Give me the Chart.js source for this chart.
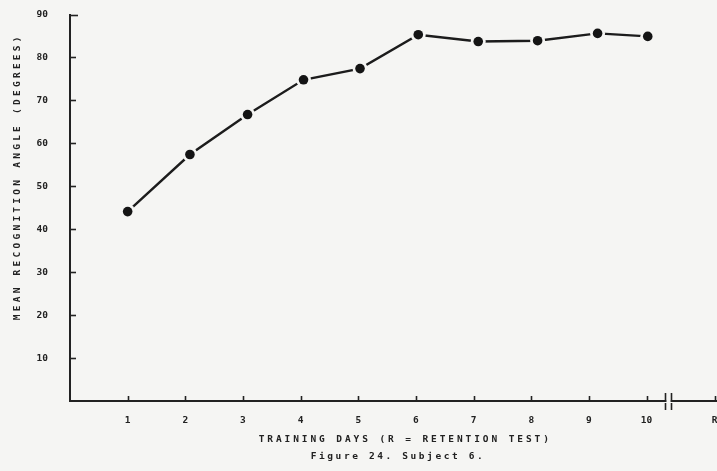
<!DOCTYPE html>
<html><head><meta charset="utf-8">
<script src="https://cdn.jsdelivr.net/npm/chart.js@4.4.0/dist/chart.umd.min.js"></script>
<style>
html,body{margin:0;padding:0;background:#f5f5f3;overflow:hidden;width:717px;height:471px;}
#wrap{width:740px;height:471px;}
canvas{display:block;}
</style></head><body>
<div id="wrap"><canvas id="c" width="740" height="471"></canvas></div>
<script>
// ---- data ----
const trainingDays = [1.00, 2.08, 3.08, 4.05, 5.03, 6.04, 7.08, 8.11, 9.15, 10.02];
const meanAngle    = [44.1, 57.4, 66.7, 74.8, 77.4, 85.3, 83.7, 83.9, 85.6, 84.9];
const xTickValues  = [1, 2, 3, 4, 5, 6, 7, 8, 9, 10, 11.18];
const xTickLabels  = ['1','2','3','4','5','6','7','8','9','10','R'];
const yTickValues  = [10, 20, 30, 40, 50, 60, 70, 80, 90];
const axisBreakAt  = 10.38;
const xTitle  = 'TRAINING DAYS (R = RETENTION TEST)';
const yTitle  = 'MEAN RECOGNITION ANGLE (DEGREES)';
const caption = 'Figure 24. Subject 6.';

const BG = '#f5f5f3';
const INK = '#222222';
const points = trainingDays.map((d, i) => ({x: d, y: meanAngle[i]}));

Chart.defaults.font.family = "'DejaVu Sans Mono', monospace";
Chart.defaults.font.weight = 'bold';
Chart.defaults.font.size = 9.5;
Chart.defaults.color = INK;

const titleStyle = {
  x: {ls: '2.9px', dx: 4, dy: 0},
  y: {ls: '3.25px', dx: 0, dy: -31}
};

const stylePlugin = {
  id: 'stylePlugin',
  beforeDraw(chart) {
    const c = chart.ctx;
    c.save(); c.fillStyle = BG; c.fillRect(0, 0, chart.width, chart.height); c.restore();
    Object.values(chart.scales).forEach(s => {
      const cfg = titleStyle[s.id];
      if (cfg && !s.__patched) {
        const orig = s.drawTitle;
        s.drawTitle = function () {
          const ctx = this.ctx; ctx.save();
          ctx.letterSpacing = cfg.ls; ctx.translate(cfg.dx, cfg.dy);
          orig.apply(this, arguments); ctx.restore();
        };
        s.__patched = true;
      }
    });
    const tb = chart.titleBlock;
    if (tb && !tb.__patched) {
      const orig = tb.draw;
      tb.draw = function () {
        const ctx = this.ctx; ctx.save();
        ctx.letterSpacing = '2.6px'; ctx.translate(28, 0);
        orig.apply(this, arguments); ctx.restore();
      };
      tb.__patched = true;
    }
  },
  afterDraw(chart) {
    const {ctx, scales: {x, y}, chartArea: a} = chart;
    ctx.save();
    ctx.strokeStyle = INK; ctx.lineWidth = 1.6;
    x.ticks.forEach(t => {
      const px = Math.round(x.getPixelForValue(t.value)) + 0.5;
      ctx.beginPath(); ctx.moveTo(px, a.bottom); ctx.lineTo(px, a.bottom - 5); ctx.stroke();
    });
    y.ticks.forEach(t => {
      const py = Math.round(y.getPixelForValue(t.value)) + 0.5;
      ctx.beginPath(); ctx.moveTo(a.left, py); ctx.lineTo(a.left + (t.value === 90 ? 8 : 6), py); ctx.stroke();
    });
    // axis break
    const bx = x.getPixelForValue(axisBreakAt);
    ctx.fillStyle = BG; ctx.fillRect(bx - 2, a.bottom - 3, 4, 6);
    ctx.lineWidth = 1.6;
    [bx - 3, bx + 3].forEach(px => {
      ctx.beginPath(); ctx.moveTo(px, a.bottom - 8); ctx.lineTo(px, a.bottom - 1); ctx.stroke();
      ctx.beginPath(); ctx.moveTo(px, a.bottom + 2); ctx.lineTo(px, a.bottom + 9); ctx.stroke();
    });
    ctx.restore();
  }
};

new Chart(document.getElementById('c'), {
  type: 'line',
  data: {
    datasets: [
      {data: points, borderColor: '#1c1c1c', borderWidth: 2.4, pointRadius: 0, tension: 0, order: 3},
      {data: points, showLine: false, pointRadius: 7.5, pointBackgroundColor: BG, pointBorderWidth: 0, order: 2},
      {data: points, showLine: false, pointRadius: 4.8, pointBackgroundColor: '#141414', pointBorderWidth: 0, order: 1}
    ]
  },
  options: {
    responsive: false,
    animation: false,
    layout: {padding: {top: 14.5, left: 0, right: 0, bottom: 0}},
    plugins: {
      legend: {display: false},
      tooltip: {enabled: false},
      title: {
        display: true, position: 'bottom', text: caption,
        font: {size: 9.5, weight: 'bold'}, color: INK,
        padding: {top: 4.3, bottom: 8.3}
      }
    },
    scales: {
      x: {
        type: 'linear', min: 0, max: 11.49,
        grid: {display: false},
        border: {display: true, color: INK, width: 2},
        afterBuildTicks: s => { s.ticks = xTickValues.map(v => ({value: v})); },
        afterFit: s => { s.height = 46; s.paddingLeft = 0; s.paddingRight = 0; },
        ticks: {
          autoSkip: false, maxRotation: 0, padding: 6,
          callback: v => xTickLabels[xTickValues.indexOf(v)]
        },
        title: {display: true, text: xTitle, font: {size: 9.5, weight: 'bold'}, color: INK, padding: {top: 0, bottom: 1.3}}
      },
      y: {
        type: 'linear', min: 0, max: 90,
        grid: {display: false},
        border: {display: true, color: INK, width: 2},
        afterBuildTicks: s => { s.ticks = yTickValues.map(v => ({value: v})); },
        afterFit: s => { s.width = 70; s.paddingTop = 0; s.paddingBottom = 0; },
        ticks: {padding: 14, autoSkip: false},
        title: {display: true, text: yTitle, font: {size: 9.5, weight: 'bold'}, color: INK, padding: {top: 12.3, bottom: 0}}
      }
    }
  },
  plugins: [stylePlugin]
});
</script>
</body></html>
